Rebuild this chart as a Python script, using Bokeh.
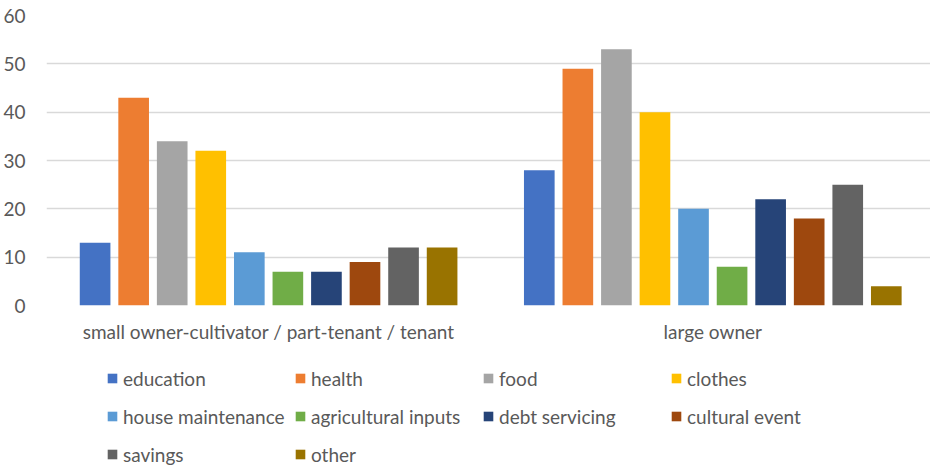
from bokeh.plotting import figure
from bokeh.layouts import column
from bokeh.models import ColumnDataSource, Legend, LegendItem, Range1d, FixedTicker
from bokeh.transform import dodge
from bokeh.embed import file_html
from bokeh.resources import INLINE

groups = ["small owner-cultivator / part-tenant / tenant", "large owner"]
series = ["education", "health", "food", "clothes", "house maintenance",
          "agricultural inputs", "debt servicing", "cultural event", "savings", "other"]
colors = ["#4472C4", "#ED7D31", "#A5A5A5", "#FFC000", "#5B9BD5",
          "#70AD47", "#264478", "#9E480E", "#636363", "#997300"]
small_owner = [13, 43, 34, 32, 11, 7, 7, 9, 12, 12]
large_owner = [28, 49, 53, 40, 20, 8, 22, 18, 25, 4]
y_ticks = [0, 10, 20, 30, 40, 50, 60]

FONT = "Lato"
FS = "19px"
TXT = "#595959"

data = {"x": [i + 0.5 for i in range(len(groups))]}
for i, s in enumerate(series):
    data["s%d" % i] = [small_owner[i], large_owner[i]]
src = ColumnDataSource(data)

p = figure(width=930, height=350, output_backend="svg", toolbar_location=None,
           x_range=Range1d(0, 885 / 444.7), y_range=Range1d(0, 60),
           min_border_left=45, min_border_right=0, min_border_top=15,
           min_border_bottom=45)
p.outline_line_color = None
p.background_fill_color = "white"
p.border_fill_color = "white"

step = 0.0868
width = 0.069
for i, s in enumerate(series):
    p.vbar(x=dodge("x", (i - 4.5) * step, range=p.x_range), top="s%d" % i,
           width=width, bottom=0, source=src, fill_color=colors[i], line_color=None)

p.xgrid.grid_line_color = None
p.ygrid.grid_line_color = "#D9D9D9"
p.ygrid.grid_line_width = 1.3
p.ygrid.ticker = FixedTicker(ticks=y_ticks)

p.yaxis.ticker = FixedTicker(ticks=y_ticks)
p.yaxis.axis_line_color = None
p.yaxis.major_tick_line_color = None
p.yaxis.minor_tick_line_color = None
p.yaxis.major_label_standoff = 15
p.yaxis.major_label_text_font = FONT
p.yaxis.major_label_text_font_size = FS
p.yaxis.major_label_text_color = TXT

p.xaxis.ticker = FixedTicker(ticks=data["x"])
p.xaxis.major_label_overrides = {x: g for x, g in zip(data["x"], groups)}
p.xaxis.axis_line_color = None
p.xaxis.major_tick_line_color = None
p.xaxis.minor_tick_line_color = None
p.xaxis.major_label_standoff = 8
p.xaxis.major_label_text_font = FONT
p.xaxis.major_label_text_font_size = FS
p.xaxis.major_label_text_color = TXT

# legend figure below the chart (zero-size swatch renderers carry the colours)
q = figure(width=930, height=120, output_backend="svg", toolbar_location=None,
           x_axis_location=None, y_axis_location=None,
           x_range=Range1d(0, 1), y_range=Range1d(0, 1),
           min_border_left=0, min_border_right=0, min_border_top=0, min_border_bottom=0)
q.outline_line_color = None
q.xgrid.grid_line_color = None
q.ygrid.grid_line_color = None
items = []
for i, s in enumerate(series):
    r = q.vbar(x=[0], top=[0], bottom=[0], width=0, fill_color=colors[i], line_color=None)
    items.append(LegendItem(label=s, renderers=[r]))

legend = Legend(items=items, orientation="horizontal", ncols=4,
                location=(60, 0))
legend.glyph_width = 12
legend.glyph_height = 12
legend.label_standoff = 5
legend.label_width = 165
legend.label_height = 32
legend.spacing = 6
legend.padding = 0
legend.margin = 0
legend.border_line_color = None
legend.background_fill_alpha = 0
legend.label_text_font = FONT
legend.label_text_font_size = FS
legend.label_text_color = TXT
q.add_layout(legend, "center")

layout = column(p, q, spacing=0)
open("out.html", "w").write(file_html(layout, INLINE))
